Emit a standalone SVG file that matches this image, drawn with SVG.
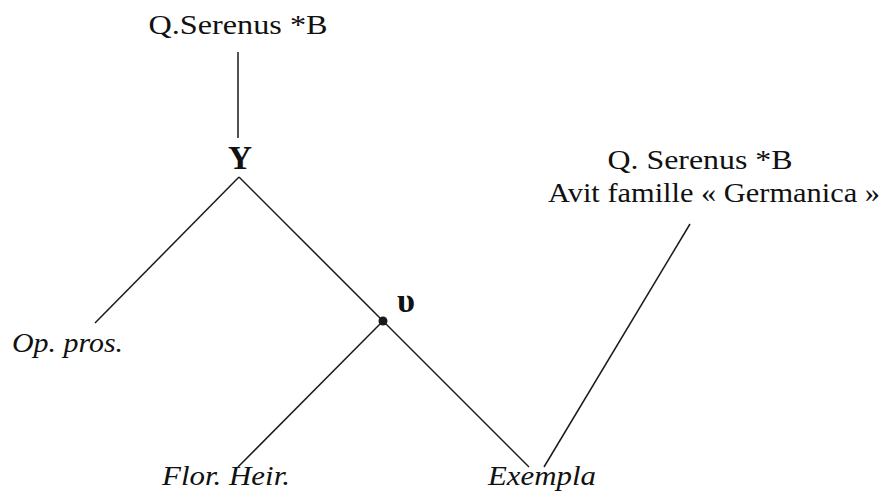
<svg xmlns="http://www.w3.org/2000/svg" width="884" height="501" viewBox="0 0 884 501">
<style>
.t{font-family:"Liberation Serif","Times New Roman",serif;font-size:27px;fill:#111}
.i{font-style:italic}
.g{font-family:"Liberation Serif","Times New Roman",serif;font-size:33px;font-weight:bold;fill:#111}
.c{stroke:#1a1a1a;stroke-width:1.5;fill:none}
</style>
<rect width="884" height="501" fill="#fff"/>
<g id="connectors">
<line class="c" x1="238" y1="52" x2="238" y2="138"/>
<line class="c" x1="239" y1="177" x2="95" y2="323"/>
<line class="c" x1="239" y1="177" x2="383" y2="321"/>
<line class="c" x1="383" y1="321" x2="238" y2="467"/>
<line class="c" x1="383" y1="321" x2="529" y2="467"/>
<line class="c" x1="690" y1="224" x2="544" y2="467"/>
</g>
<g id="n-serenus-top"><text class="t" x="238" y="34" text-anchor="middle" textLength="179" lengthAdjust="spacingAndGlyphs">Q.Serenus *B</text></g>
<g id="n-upsilon"><text class="g" x="240" y="169" text-anchor="middle" textLength="24" lengthAdjust="spacingAndGlyphs">Υ</text></g>
<g id="n-nu"><circle cx="383" cy="321" r="4.5" fill="#1a1a1a"/><text class="g" x="406" y="312" text-anchor="middle" textLength="18" lengthAdjust="spacingAndGlyphs">υ</text></g>
<g id="n-serenus-avit">
<text class="t" x="700" y="169" text-anchor="middle" textLength="185" lengthAdjust="spacingAndGlyphs">Q. Serenus *B</text>
<text class="t" x="714" y="202" text-anchor="middle" textLength="332" lengthAdjust="spacingAndGlyphs">Avit famille « Germanica »</text>
</g>
<g id="n-op-pros"><text class="t i" x="12" y="352" textLength="111" lengthAdjust="spacingAndGlyphs">Op. pros.</text></g>
<g id="n-flor-heir"><text class="t i" x="162" y="485" textLength="128" lengthAdjust="spacingAndGlyphs">Flor. Heir.</text></g>
<g id="n-exempla"><text class="t i" x="488" y="485" textLength="108" lengthAdjust="spacingAndGlyphs">Exempla</text></g>
</svg>
